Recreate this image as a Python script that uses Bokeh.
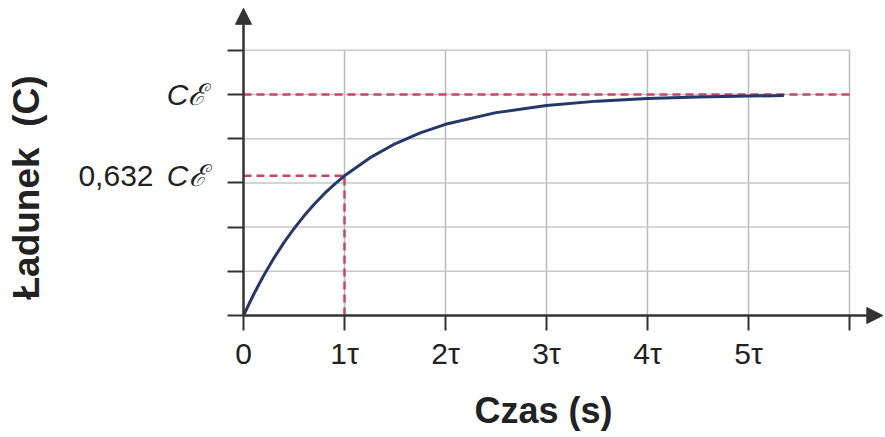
import math
from bokeh.plotting import figure
from bokeh.models import Range1d, FixedTicker, Arrow, NormalHead, Label
from bokeh.embed import file_html
from bokeh.resources import INLINE

# ---- data (time in units of tau, charge in units of C*E) ----
t_ticks = [0, 1, 2, 3, 4, 5, 6]
t_labels = ["0", "1\u03c4", "2\u03c4", "3\u03c4", "4\u03c4", "5\u03c4", ""]
q_ticks = [0, 0.2, 0.4, 0.6, 0.8, 1.0, 1.2]
q_labels = ["", "", "", "", "", "C\u2130", ""]

t_curve = [0, 0.1, 0.2, 0.3, 0.4, 0.5, 0.6, 0.7, 0.8, 0.9, 1.0, 1.25, 1.5, 1.75, 2.0,
           2.5, 3.0, 3.5, 4.0, 4.5, 5.0, 5.35]
q_curve = [0, 0.095, 0.181, 0.259, 0.330, 0.393, 0.451, 0.503, 0.551, 0.593, 0.632,
           0.713, 0.777, 0.826, 0.865, 0.918, 0.950, 0.970, 0.982, 0.989, 0.993, 0.995]

q_full = 1.0
q_tau = 0.632
t_tau = 1.0

FONT = "Liberation Sans"
AX = "#333333"
TXT = "#222222"
RED = "#c4476a"

W, H = 885, 437
X0_PX, Y0_PX = 243, 315      # pixel position of the origin
PX_T, PX_Q = 101.0, 221.0    # pixels per tau / per C*E

p = figure(width=W, height=H,
           x_range=Range1d(-X0_PX / PX_T, (W - X0_PX) / PX_T),
           y_range=Range1d(-(H - Y0_PX) / PX_Q, Y0_PX / PX_Q),
           output_backend="svg", toolbar_location=None,
           min_border_left=0, min_border_right=0, min_border_top=0, min_border_bottom=0)
p.grid.visible = False
p.outline_line_color = None
p.background_fill_color = "white"

# grid lines limited to the tick span
t_grid = t_ticks[1:]
q_grid = q_ticks[1:]
p.segment(x0=t_grid, y0=[q_ticks[0]] * len(t_grid), x1=t_grid, y1=[q_ticks[-1]] * len(t_grid),
          line_color="#bababa", line_width=1.5)
p.segment(x0=[t_ticks[0]] * len(q_grid), y0=q_grid, x1=[t_ticks[-1]] * len(q_grid), y1=q_grid,
          line_color="#c8c8c8", line_width=1.5)

# dashed guide lines
p.line([t_ticks[0], t_ticks[-1]], [q_full, q_full], line_color=RED, line_width=2.5, line_dash="8 5")
p.line([t_ticks[0], t_tau], [q_tau, q_tau], line_color=RED, line_width=2.5, line_dash="8 5")
p.line([t_tau, t_tau], [0, q_tau], line_color=RED, line_width=2.5, line_dash="8 5")

# charging curve
p.line(t_curve, q_curve, line_color="#26386a", line_width=3)

# axes, fixed at the origin
xa = p.xaxis[0]
xa.fixed_location = 0
xa.ticker = FixedTicker(ticks=t_ticks)
xa.major_label_overrides = {t: s for t, s in zip(t_ticks, t_labels)}
xa.axis_line_color = None
xa.major_tick_out = 15
xa.major_tick_in = 0
xa.major_tick_line_color = AX
xa.major_tick_line_width = 2
xa.minor_tick_line_color = None
xa.major_label_standoff = 6
xa.major_label_text_font = FONT
xa.major_label_text_font_size = "30px"
xa.major_label_text_color = TXT

ya = p.yaxis[0]
ya.fixed_location = 0
ya.ticker = FixedTicker(ticks=q_ticks)
ya.major_label_overrides = {q: s for q, s in zip(q_ticks, q_labels)}
ya.axis_line_color = None
ya.major_tick_out = 16
ya.major_tick_in = 0
ya.major_tick_line_color = AX
ya.major_tick_line_width = 2
ya.minor_tick_line_color = None
ya.major_label_standoff = 21
ya.major_label_text_font = FONT
ya.major_label_text_font_size = "30px"
ya.major_label_text_font_style = "italic"
ya.major_label_text_color = TXT

# axis lines with arrow heads
p.add_layout(Arrow(end=NormalHead(size=16, fill_color=AX, line_color=AX),
                   x_start=0, y_start=0, x_end=6.33, y_end=0, line_color=AX, line_width=2.5))
p.add_layout(Arrow(end=NormalHead(size=16, fill_color=AX, line_color=AX),
                   x_start=0, y_start=0, x_end=0, y_end=1.39, line_color=AX, line_width=2.5))

# label for 0.632 C E
p.add_layout(Label(x=0, y=q_tau, text="C\u2130", x_offset=-37, text_align="right",
                   text_baseline="middle", text_font=FONT, text_font_size="30px",
                   text_font_style="italic", text_color=TXT))
p.add_layout(Label(x=0, y=q_tau, text="0,632", x_offset=-90, text_align="right",
                   text_baseline="middle", text_font=FONT, text_font_size="30px",
                   text_color=TXT))

# axis titles
p.add_layout(Label(x=(543 - X0_PX) / PX_T, y=(Y0_PX - 410) / PX_Q, text="Czas (s)",
                   text_align="center", text_baseline="middle",
                   text_font=FONT, text_font_size="36px", text_font_style="bold", text_color=TXT))
p.add_layout(Label(x=(26 - X0_PX) / PX_T, y=(Y0_PX - 187) / PX_Q, text="\u0141adunek\u00a0 (C)",
                   angle=math.pi / 2, text_align="center", text_baseline="middle",
                   text_font=FONT, text_font_size="37px", text_font_style="bold", text_color=TXT))

open("out.html", "w").write(file_html(p, INLINE))
